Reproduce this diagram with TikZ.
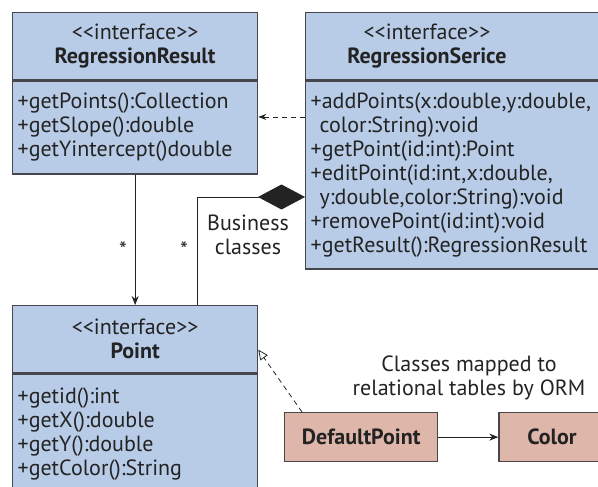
\documentclass[tikz,border=0pt]{standalone}
\usepackage{fontspec}
\setmainfont{PT Sans}
\usetikzlibrary{arrows.meta,positioning}

\definecolor{classblue}{RGB}{184,204,232}
\definecolor{ormpink}{RGB}{222,182,170}
\definecolor{edgegray}{RGB}{70,70,76}
\definecolor{inkgray}{RGB}{35,35,35}

\begin{document}
\begin{tikzpicture}[
  x=1pt, y=1pt,
  every node/.style={font=\fontsize{22}{24}\selectfont, text=inkgray},
  classhead/.style={rectangle, draw=edgegray, line width=1.3pt, fill=classblue, anchor=north west, minimum height=67pt, inner xsep=5pt, align=center},
  classbody/.style={rectangle, draw=edgegray, line width=1.3pt, fill=classblue, anchor=north west, inner xsep=5pt, align=left},
  tablebox/.style={rectangle, draw=edgegray, line width=1.3pt, fill=ormpink, minimum height=49pt, font=\fontsize{22}{24}\selectfont\bfseries},
  assoc/.style={-{Stealth[length=9pt,width=7pt]}, line width=0.8pt, draw=inkgray},
  depend/.style={-{Stealth[length=8pt,width=6pt]}, line width=0.8pt, dash pattern=on 5pt off 4pt, draw=inkgray},
  realize/.style={-{Triangle[open,length=10pt,width=9pt]}, line width=0.8pt, dash pattern=on 5pt off 4pt, draw=inkgray},
  compose/.style={{Diamond[length=47pt,width=25pt]}-, line width=0.8pt, draw=inkgray}
]
\useasboundingbox (0,0) rectangle (598,-487);
\clip (0,0) rectangle (598,-487);

% business classes
\node[classhead, minimum width=245pt, text width=235pt] (resulthead) at (12,-12) {<{}<interface>{}>\\\textbf{RegressionResult}};
\node[classbody, minimum width=245pt, text width=235pt, minimum height=93pt] (resultbody) at (resulthead.south west) {+getPoints():Collection\\+getSlope():double\\+getYintercept()double};

\node[classhead, minimum width=315pt, text width=305pt] (servicehead) at (305,-12) {};
\node[align=center] (servicetitle) at (427,-46) {<{}<interface>{}>\\\textbf{RegressionSerice}};
\node[classbody, minimum width=315pt, text width=305pt, minimum height=188pt] (servicebody) at (servicehead.south west) {+addPoints(x:double,y:double,\\\hspace*{9pt}color:String):void\\+getPoint(id:int):Point\\+editPoint(id:int,x:double,\\\hspace*{9pt}y:double,color:String):void\\+removePoint(id:int):void\\+getResult():RegressionResult};

\node[classhead, minimum width=245pt, text width=235pt] (pointhead) at (12,-305) {<{}<interface>{}>\\\textbf{Point}};
\node[classbody, minimum width=245pt, text width=235pt, minimum height=120pt] (pointbody) at (pointhead.south west) {+getid():int\\+getX():double\\+getY():double\\+getColor():String};

% ORM classes
\node[tablebox, anchor=north west, minimum width=153pt] (defpoint) at (284,-412) {DefaultPoint};
\node[tablebox, right=60pt of defpoint, minimum width=106pt] (color) {Color};
\node[align=center] (ormnote) at (469,-378) {Classes mapped to\\relational tables by ORM};

% connectors
\draw[assoc] (resultbody.south) -- (pointhead.north);
\node (manyresult) at (123,-250) {*};
\draw[compose] (servicebody.west |- 0,-197) -| ([xshift=62.5pt]pointhead.north);
\node (manybiz) at (184,-250) {*};
\node[align=center] (bizlabel) at (248,-235) {Business\\classes};
\draw[depend] ([yshift=10.5pt]resultbody.east -| servicebody.west) -- ([yshift=10.5pt]resultbody.east);
\draw[realize] ([xshift=18pt]defpoint.north west) -- ([yshift=-10.5pt]pointhead.east);
\draw[assoc] (defpoint) -- (color);
\end{tikzpicture}
\end{document}
